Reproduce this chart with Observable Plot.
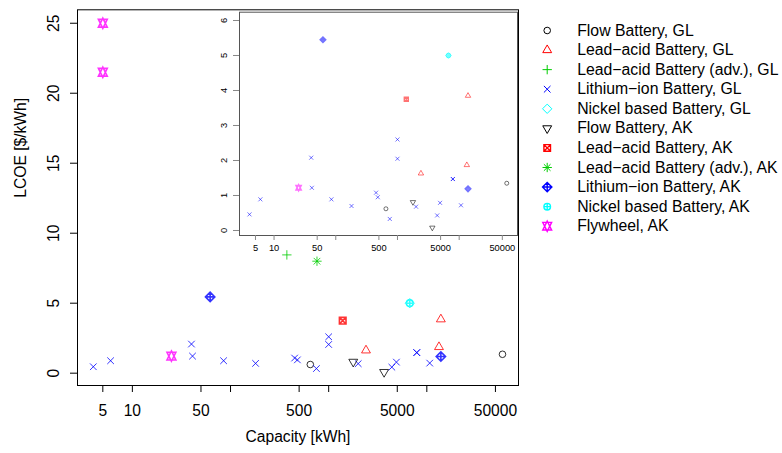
<!DOCTYPE html>
<html><head><meta charset="utf-8">
<script src="https://cdn.jsdelivr.net/npm/d3@7"></script>
<script src="https://cdn.jsdelivr.net/npm/@observablehq/plot@0.6"></script>
<style>
body{margin:0;background:#fff;}
#wrap{position:relative;width:782px;height:453px;font-family:"Liberation Sans",Arial,sans-serif;}
#wrap svg{position:absolute;left:0;top:0;}
</style></head><body><div id="wrap"></div>
<script>
// ---- data (capacity in kWh, LCOE in $/kWh) ----
const flowGL_cap = [650, 59000];
const flowGL_lcoe = [0.62, 1.35];
const leadGL_cap = [2400, 13900, 13300];
const leadGL_lcoe = [1.63, 3.85, 1.87];
const leadAdvGL_cap = [375];
const leadAdvGL_lcoe = [8.45];
const liionGL_cap = [4, 6, 40, 41, 85, 180, 450, 480, 750, 1000, 1000, 2000, 4400, 4900, 7900, 7900, 10700];
const liionGL_lcoe = [0.46, 0.89, 2.08, 1.22, 0.89, 0.70, 1.08, 0.95, 0.33, 2.6, 2.05, 0.68, 0.43, 0.79, 1.47, 1.47, 0.72];
const nickelGL_cap = [6700];
const nickelGL_lcoe = [5.0];
const flowAK_cap = [1780, 3670];
const flowAK_lcoe = [0.81, 0.08];
const leadAK_cap = [1390];
const leadAK_lcoe = [3.75];
const leadAdvAK_cap = [760];
const leadAdvAK_lcoe = [8.0];
const liionAK_cap = [62, 13900];
const liionAK_lcoe = [5.45, 1.19];
const nickelAK_cap = [6700];
const nickelAK_lcoe = [5.0];
const flywheelAK_cap = [5, 5, 25];
const flywheelAK_lcoe = [25, 21.5, 1.22];

const seriesNames = ["Flow Battery, GL", "Lead\u2212acid Battery, GL", "Lead\u2212acid Battery (adv.), GL",
  "Lithium\u2212ion Battery, GL", "Nickel based Battery, GL", "Flow Battery, AK", "Lead\u2212acid Battery, AK",
  "Lead\u2212acid Battery (adv.), AK", "Lithium\u2212ion Battery, AK", "Nickel based Battery, AK", "Flywheel, AK"];
const seriesColors = ["#000000", "#FF0000", "#00CD00", "#0000FF", "#00FFFF", "#000000", "#FF0000", "#00CD00", "#0000FF", "#00FFFF", "#FF00FF"];
const seriesPch = [1, 2, 3, 4, 5, 6, 7, 8, 9, 10, 11];
const seriesCap = [flowGL_cap, leadGL_cap, leadAdvGL_cap, liionGL_cap, nickelGL_cap, flowAK_cap, leadAK_cap, leadAdvAK_cap, liionAK_cap, nickelAK_cap, flywheelAK_cap];
const seriesLcoe = [flowGL_lcoe, leadGL_lcoe, leadAdvGL_lcoe, liionGL_lcoe, nickelGL_lcoe, flowAK_lcoe, leadAK_lcoe, leadAdvAK_lcoe, liionAK_lcoe, nickelAK_lcoe, flywheelAK_lcoe];

const xTicks = [5, 10, 50, 100, 500, 1000, 5000, 10000, 50000];
const xLabelTicks = [5, 10, 50, 500, 5000, 50000];
const yTicks = [0, 5, 10, 15, 20, 25];
const insetYTicks = [0, 1, 2, 3, 4, 5, 6];
const xLabel = "Capacity [kWh]";
const yLabel = "LCOE [$/kWh]";

// ---- R-like plotting symbols ----
const TRC0 = Math.sqrt(4 * Math.PI / (3 * Math.sqrt(3))), TRC1 = TRC0 * Math.sqrt(3) / 2, TRC2 = TRC0 / 2;
function pchSymbol(p) {
  return {draw(c, size) {
    const s = Math.sqrt(size / Math.PI);
    const q = Math.SQRT2 * s;
    const circle = (r) => { c.moveTo(r, 0); c.arc(0, 0, r, 0, 2 * Math.PI); };
    const times = (a) => { c.moveTo(-a, -a); c.lineTo(a, a); c.moveTo(-a, a); c.lineTo(a, -a); };
    const plus = (a) => { c.moveTo(-a, 0); c.lineTo(a, 0); c.moveTo(0, -a); c.lineTo(0, a); };
    const r = TRC0 * s, xc = TRC1 * s, yc = TRC2 * s;
    switch (p) {
      case 1: circle(s); break;
      case 2: c.moveTo(0, -r); c.lineTo(xc, yc); c.lineTo(-xc, yc); c.closePath(); break;
      case 3: plus(q); break;
      case 4: times(s); break;
      case 5: c.moveTo(-q, 0); c.lineTo(0, -q); c.lineTo(q, 0); c.lineTo(0, q); c.closePath(); break;
      case 6: c.moveTo(0, r); c.lineTo(xc, -yc); c.lineTo(-xc, -yc); c.closePath(); break;
      case 7: c.moveTo(-s, -s); c.lineTo(s, -s); c.lineTo(s, s); c.lineTo(-s, s); c.closePath(); times(s); break;
      case 8: times(s); plus(q); break;
      case 9: c.moveTo(-q, 0); c.lineTo(0, -q); c.lineTo(q, 0); c.lineTo(0, q); c.closePath(); plus(q); break;
      case 10: circle(s); plus(s); break;
      case 11: {
        const y2 = 0.5 * (TRC2 + TRC0) * s;
        c.moveTo(0, r); c.lineTo(xc, -y2); c.lineTo(-xc, -y2); c.closePath();
        c.moveTo(0, -r); c.lineTo(xc, y2); c.lineTo(-xc, y2); c.closePath();
        break;
      }
    }
  }};
}

const rows = seriesNames.map((name, i) => seriesCap[i].map((x, j) => ({series: i, x, y: seriesLcoe[i][j]})));
const boldSeries = new Set([6, 8, 9, 10]);

function dotMarks(filterFn, r, opacity, boldW) {
  return seriesNames.map((name, i) => Plot.dot(rows[i].filter(filterFn), {
    x: "x", y: "y", r, symbol: pchSymbol(seriesPch[i]), stroke: seriesColors[i], fill: "none",
    strokeWidth: boldSeries.has(i) ? boldW : 1, strokeOpacity: opacity
  }));
}

const FONT = '"Liberation Sans", Arial, sans-serif';

const main = Plot.plot({
  width: 782, height: 453, marginLeft: 77, marginRight: 264, marginTop: 9.3, marginBottom: 68,
  style: {fontFamily: FONT, background: "transparent", overflow: "visible"},
  x: {type: "log", domain: [10 ** 0.441, 10 ** 4.934]},
  y: {domain: [-0.88, 25.96]},
  marks: [
    Plot.frame({stroke: "#000"}),
    Plot.axisX({ticks: xTicks, tickSize: 7, label: null, tickFormat: () => ""}),
    Plot.text(xLabelTicks, {x: (d) => d, frameAnchor: "bottom", dy: 25, text: (d) => String(d),
      fontSize: 15.6, lineAnchor: "middle"}),
    Plot.axisY({ticks: yTicks, tickSize: 7, label: null, tickFormat: () => ""}),
    Plot.text(yTicks, {y: (d) => d, frameAnchor: "left", dx: -23.2, rotate: -90, text: (d) => String(d),
      fontSize: 15.6, textAnchor: "middle", lineAnchor: "middle"}),
    Plot.text([xLabel], {frameAnchor: "bottom", dy: 56, text: (d) => d, fontSize: 15.6}),
    Plot.text([yLabel], {frameAnchor: "left", dx: -57, rotate: -90, text: (d) => d, fontSize: 15.6}),
    ...dotMarks(() => true, 3.3, 0.8, 1.6)
  ]
});

const inset = Plot.plot({
  width: 782, height: 453, marginLeft: 239, marginRight: 265, marginTop: 11.7, marginBottom: 218,
  style: {fontFamily: FONT, background: "transparent", overflow: "visible"},
  x: {type: "log", domain: [10 ** 0.440, 10 ** 4.945]},
  y: {domain: [-0.143, 6.237]},
  marks: [
    Plot.frame({stroke: "#555"}),
    Plot.axisX({ticks: xTicks, tickSize: 5, label: null, stroke: "#888", tickFormat: () => ""}),
    Plot.text(xLabelTicks, {x: (d) => d, frameAnchor: "bottom", dy: 13, text: (d) => String(d),
      fontSize: 9.3, lineAnchor: "middle"}),
    Plot.axisY({ticks: insetYTicks, tickSize: 6, label: null, stroke: "#888", tickFormat: () => ""}),
    Plot.text(insetYTicks, {y: (d) => d, frameAnchor: "left", dx: -15, rotate: -90, text: (d) => String(d),
      fontSize: 9.3, textAnchor: "middle", lineAnchor: "middle"}),
    ...dotMarks((d) => d.y <= 6.2, 2.0, 0.55, 1.4)
  ]
});

const legendIndex = seriesNames.map((name, i) => i);
const legend = Plot.plot({
  width: 782, height: 453, margin: 0,
  style: {fontFamily: FONT, background: "transparent", overflow: "visible"},
  x: {domain: [0, 1], range: [546.7, 576.7], axis: null},
  y: {domain: [0, 10], range: [30, 225.7], axis: null},
  marks: [
    ...legendIndex.map((i) => Plot.dot([i], {x: 0, y: (d) => d, r: 3.3, symbol: pchSymbol(seriesPch[i]),
      stroke: seriesColors[i], fill: "none", strokeWidth: boldSeries.has(i) ? 1.4 : 1})),
    Plot.text(legendIndex, {x: 1, y: (d) => d, text: (i) => seriesNames[i], textAnchor: "start", fontSize: 15.8})
  ]
});

document.getElementById("wrap").append(main, inset, legend);
</script></body></html>
